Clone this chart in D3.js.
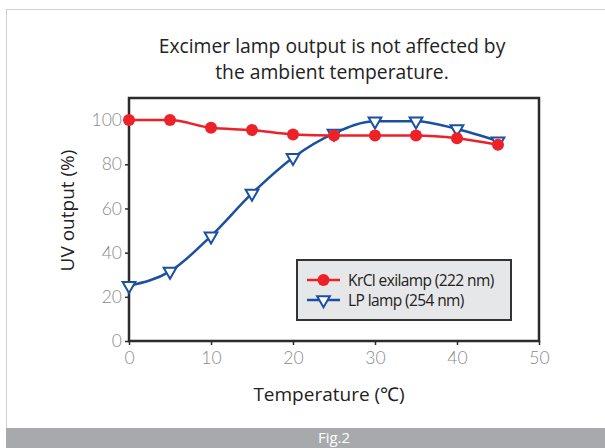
<!DOCTYPE html>
<meta charset="utf-8">
<html>
<head>
<title>Excimer lamp output vs temperature</title>
<style>
  body { margin: 0; background: #fff; }
  svg text { font-family: "Open Sans", "Noto Sans", sans-serif; }
</style>
</head>
<body>
<div id="chart"></div>
<script src="https://d3js.org/d3.v7.min.js"></script>
<script>

var temps = [0, 5, 10, 15, 20, 25, 30, 35, 40, 45];
var krclValues = [100, 100, 96.5, 95.5, 93.5, 93, 93, 93, 91.8, 88.8];
var lpValues = [25, 31.5, 47.5, 66.8, 83, 94, 99.5, 99.5, 96, 90.5];
var xTicks = [0, 10, 20, 30, 40, 50];
var yTicks = [0, 20, 40, 60, 80, 100];
var seriesNames = ["KrCl exilamp (222 nm)", "LP lamp (254 nm)"];

var W = 605, H = 448;
var margin = {top: 98, right: 66, bottom: 107, left: 129},
    width = W - margin.left - margin.right,
    height = H - margin.top - margin.bottom;

var red = "#ec2228", blue = "#1b4f9f";

var root = d3.select("#chart")
  .append("svg")
    .attr("width", W)
    .attr("height", H);

// outer frame + caption bar
root.append("rect")
    .attr("x", 6.5).attr("y", 9.5)
    .attr("width", W).attr("height", H)
    .attr("fill", "#fff")
    .attr("stroke", "#cfcfcf");
root.append("rect")
    .attr("x", 6).attr("y", 428)
    .attr("width", W).attr("height", 20)
    .attr("fill", "#a7a9ac");
root.append("text")
    .attr("x", 334).attr("y", 443)
    .attr("text-anchor", "middle")
    .attr("fill", "#fff")
    .style("font-size", "15px")
    .text("Fig.2");

// title
root.append("text")
    .attr("x", 332).attr("y", 53)
    .attr("text-anchor", "middle")
    .attr("fill", "#222")
    .style("font-size", "19.3px")
    .text("Excimer lamp output is not affected by");
root.append("text")
    .attr("x", 332).attr("y", 79)
    .attr("text-anchor", "middle")
    .attr("fill", "#222")
    .style("font-size", "19.3px")
    .text("the ambient temperature.");

var svg = root.append("g")
    .attr("transform", "translate(" + margin.left + "," + margin.top + ")");

var x = d3.scaleLinear().domain([0, 50]).range([0, width]);
var y = d3.scaleLinear().domain([0, 110]).range([height, 0]);

// plot box
svg.append("rect")
    .attr("width", width)
    .attr("height", height)
    .attr("fill", "none")
    .attr("stroke", "#2b2b2b")
    .attr("stroke-width", 2.5);

var xAxis = svg.append("g")
    .attr("transform", "translate(0," + height + ")")
    .call(d3.axisBottom(x).tickValues(xTicks).tickSize(4).tickPadding(7));
var yAxis = svg.append("g")
    .call(d3.axisLeft(y).tickValues(yTicks).tickSize(4).tickPadding(3));

[xAxis, yAxis].forEach(function(a) {
  a.select(".domain").remove();
  a.selectAll(".tick line").attr("stroke", "#2b2b2b").attr("stroke-width", 1.5);
  a.selectAll(".tick text")
    .attr("fill", "#8a8a8a")
    .style("font-family", "Lato, 'Open Sans', sans-serif")
    .style("font-size", "17.5px")
    .style("font-weight", "300");
});

// axis labels
svg.append("text")
    .attr("x", width / 2 - 5)
    .attr("y", height + 60)
    .attr("text-anchor", "middle")
    .attr("fill", "#222")
    .style("font-size", "19px")
    .text("Temperature (℃)");
svg.append("text")
    .attr("transform", "translate(-55," + (height / 2 - 9) + ") rotate(-90)")
    .attr("text-anchor", "middle")
    .attr("fill", "#222")
    .style("font-size", "19px")
    .text("UV output (%)");

var krcl = temps.map(function(t, i) { return {t: t, v: krclValues[i]}; });
var lp = temps.map(function(t, i) { return {t: t, v: lpValues[i]}; });

var line = d3.line()
    .x(function(d) { return x(d.t); })
    .y(function(d) { return y(d.v); })
    .curve(d3.curveMonotoneX);

svg.append("path")
    .datum(lp)
    .attr("fill", "none")
    .attr("stroke", blue)
    .attr("stroke-width", 2.5)
    .attr("d", line);

svg.append("path")
    .datum(krcl)
    .attr("fill", "none")
    .attr("stroke", red)
    .attr("stroke-width", 2.5)
    .attr("d", line);

var tri = d3.symbol().type(d3.symbolTriangle).size(70);

svg.selectAll(".lp")
  .data(lp)
  .enter().append("path")
    .attr("class", "lp")
    .attr("d", tri)
    .attr("transform", function(d) { return "translate(" + x(d.t) + "," + y(d.v) + ") rotate(180)"; })
    .attr("fill", "#fff")
    .attr("stroke", blue)
    .attr("stroke-width", 2);

svg.selectAll(".kr")
  .data(krcl)
  .enter().append("circle")
    .attr("class", "kr")
    .attr("cx", function(d) { return x(d.t); })
    .attr("cy", function(d) { return y(d.v); })
    .attr("r", 6)
    .attr("fill", red);

// legend
var lg = root.append("g").attr("transform", "translate(297,260)");
lg.append("rect")
    .attr("width", 214).attr("height", 60)
    .attr("fill", "#e6e7e8")
    .attr("stroke", "#333")
    .attr("stroke-width", 2);

[0, 1].forEach(function(i) {
  var yy = 20 + i * 20;
  var c = i == 0 ? red : blue;
  lg.append("line")
      .attr("x1", 10).attr("x2", 43)
      .attr("y1", yy).attr("y2", yy)
      .attr("stroke", c)
      .attr("stroke-width", 2.5);
  if (i == 0) {
    lg.append("circle").attr("cx", 26.5).attr("cy", yy).attr("r", 6).attr("fill", red);
  } else {
    lg.append("path")
        .attr("d", tri)
        .attr("transform", "translate(26.5," + yy + ") rotate(180)")
        .attr("fill", "#fff")
        .attr("stroke", blue)
        .attr("stroke-width", 2);
  }
  lg.append("text")
      .attr("x", 51).attr("y", yy + 5.5)
      .attr("fill", "#222")
      .style("font-size", "15.5px")
      .style("letter-spacing", "-0.6px")
      .text(seriesNames[i]);
});

</script>
</body>
</html>
